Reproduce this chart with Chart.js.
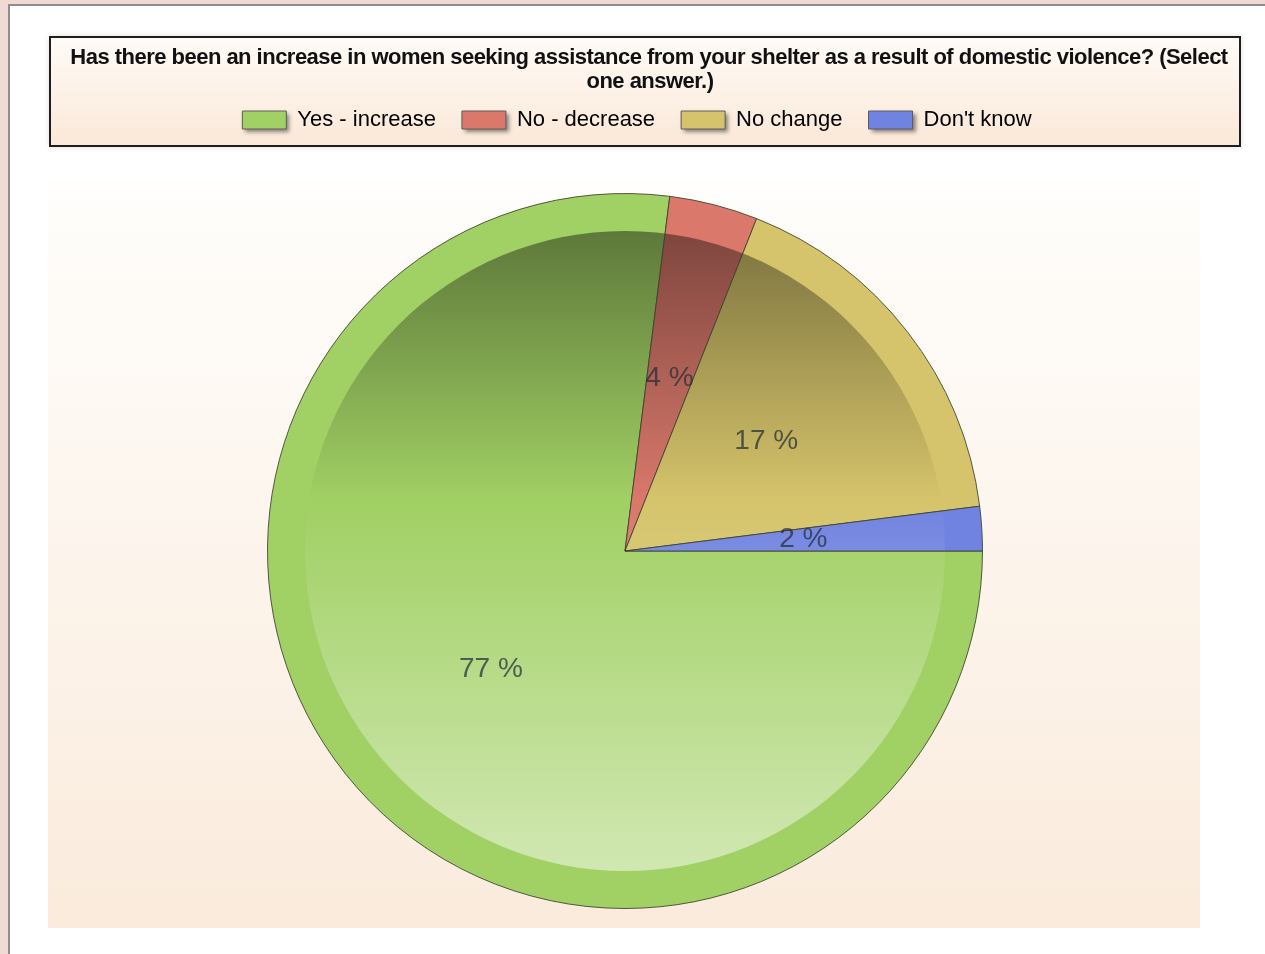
<!DOCTYPE html>
<html lang="en">
<head>
<meta charset="utf-8">
<title>Shelter survey</title>
<script src="https://cdn.jsdelivr.net/npm/chart.js@4.4.1/dist/chart.umd.min.js"></script>
<style>
  html, body { margin: 0; padding: 0; overflow: hidden; background: #f1dad3; width: 1265px; height: 954px; }
  #panel { position: absolute; left: 8px; top: 4px; width: 1300px; height: 1000px; background: #fff;
           border-left: 2px solid #8e8e8e; border-top: 2px solid #8e8e8e; }
  #myChart { position: absolute; left: 0; top: 0; }
</style>
</head>
<body>
<div id="panel"></div>
<canvas id="myChart" width="1265" height="954"></canvas>
<script>
  // data
  const titleLines = [
    "Has there been an increase in women seeking assistance from your shelter as a result of domestic violence? (Select",
    "one answer.)"
  ];
  const answers = ["Yes - increase", "No - decrease", "No change", "Don't know"];
  const percents = [77, 4, 17, 2];
  const sliceColors = ["#a1d064", "#d9786b", "#d5c46b", "#7183e0"];

  const FONT = '"Liberation Sans", Arial, sans-serif';

  // ring colour outside, shaded disc inside (same look as the old 3d pie)
  const patternCache = {};
  function slicePattern(context) {
    const chart = context.chart;
    const area = chart.chartArea;
    const i = context.dataIndex;
    if (!area) return sliceColors[i];
    const cx = (area.left + area.right) / 2;
    const cy = (area.top + area.bottom) / 2;
    const R = Math.min(area.width, area.height) / 2;
    const key = i + ':' + cx + ':' + cy + ':' + R;
    if (patternCache[key]) return patternCache[key];
    const off = document.createElement('canvas');
    off.width = chart.width;
    off.height = chart.height;
    const g = off.getContext('2d');
    g.fillStyle = sliceColors[i];
    g.fillRect(0, 0, off.width, off.height);
    const r = R * 0.894;
    g.beginPath();
    g.arc(cx, cy, r, 0, Math.PI * 2);
    const lin = g.createLinearGradient(0, cy - r, 0, cy + r);
    lin.addColorStop(0, 'rgba(0,0,0,0.42)');
    lin.addColorStop(0.42, 'rgba(0,0,0,0)');
    lin.addColorStop(0.42, 'rgba(255,255,255,0)');
    lin.addColorStop(1, 'rgba(255,255,255,0.5)');
    g.fillStyle = lin;
    g.fill();
    const p = chart.ctx.createPattern(off, 'no-repeat');
    patternCache[key] = p;
    return p;
  }

  const backdrop = {
    id: 'backdrop',
    afterLayout(chart) {
      // pie sits in a fixed square
      chart.chartArea = { left: 267, top: 193, right: 983, bottom: 909, width: 716, height: 716 };
    },
    beforeDraw(chart) {
      const ctx = chart.ctx;
      ctx.save();
      // plot area
      let gr = ctx.createLinearGradient(0, 180, 0, 928);
      gr.addColorStop(0, '#fffefc');
      gr.addColorStop(1, '#faebdc');
      ctx.fillStyle = gr;
      ctx.fillRect(48, 180, 1152, 748);
      // legend box
      gr = ctx.createLinearGradient(0, 37, 0, 146);
      gr.addColorStop(0, '#fffbf7');
      gr.addColorStop(1, '#fbe8d8');
      ctx.shadowColor = 'rgba(0,0,0,0.18)';
      ctx.shadowBlur = 6;
      ctx.fillStyle = gr;
      ctx.fillRect(50, 37, 1190, 109);
      ctx.shadowColor = 'transparent';
      ctx.lineWidth = 2;
      ctx.strokeStyle = '#1e1e1e';
      ctx.strokeRect(50, 37, 1190, 109);
      // soft shadows under the legend swatches
      const boxes = (chart.legend && chart.legend.legendHitBoxes) || [];
      ctx.shadowColor = 'rgba(0,0,0,0.45)';
      ctx.shadowBlur = 4;
      ctx.shadowOffsetX = 3;
      ctx.shadowOffsetY = 3;
      ctx.fillStyle = '#888';
      boxes.forEach(h => ctx.fillRect(h.left, h.top + 2, 44, 18));
      ctx.shadowColor = 'transparent';
      ctx.shadowOffsetX = 0;
      ctx.shadowOffsetY = 0;
      // title, squeezed like the original
      ctx.fillStyle = '#111';
      ctx.font = 'bold 22px ' + FONT;
      ctx.textAlign = 'center';
      ctx.textBaseline = 'middle';
      const w0 = ctx.measureText(titleLines[0]).width;
      const ls = (1158 - w0) / (titleLines[0].length - 1);
      ctx.letterSpacing = ls.toFixed(2) + 'px';
      ctx.fillText(titleLines[0], 649, 58);
      ctx.fillText(titleLines[1], 650, 82);
      ctx.restore();
    }
  };

  const sliceLabels = {
    id: 'sliceLabels',
    afterDatasetsDraw(chart) {
      const ctx = chart.ctx;
      const meta = chart.getDatasetMeta(0);
      ctx.save();
      ctx.font = '28px ' + FONT;
      ctx.fillStyle = 'rgba(35,45,55,0.72)';
      ctx.textAlign = 'center';
      ctx.textBaseline = 'middle';
      meta.data.forEach((arc, i) => {
        const p = arc.getCenterPoint();
        ctx.fillText(percents[i] + ' %', p.x, p.y);
      });
      ctx.restore();
    }
  };

  var ctx = document.getElementById("myChart");
  var myChart = new Chart(ctx, {
    type: 'pie',
    data: {
      labels: answers,
      datasets: [{
        data: percents,
        backgroundColor: slicePattern,
        borderColor: 'rgba(60,62,45,0.85)',
        borderWidth: 1
      }]
    },
    options: {
      responsive: false,
      animation: false,
      events: [],
      rotation: 90,
      layout: { padding: { top: 83, left: 9, right: 0, bottom: 0 } },
      plugins: {
        tooltip: { enabled: false },
        legend: {
          position: 'top',
          labels: {
            boxWidth: 44,
            boxHeight: 18,
            padding: 26,
            color: '#555',
            font: { size: 22, family: FONT },
            generateLabels: () => answers.map((a, i) => ({
              text: a,
              fillStyle: sliceColors[i],
              strokeStyle: '#5c5c5c',
              lineWidth: 1,
              hidden: false,
              index: i
            }))
          }
        }
      }
    },
    plugins: [backdrop, sliceLabels]
  });
</script>
</body>
</html>
